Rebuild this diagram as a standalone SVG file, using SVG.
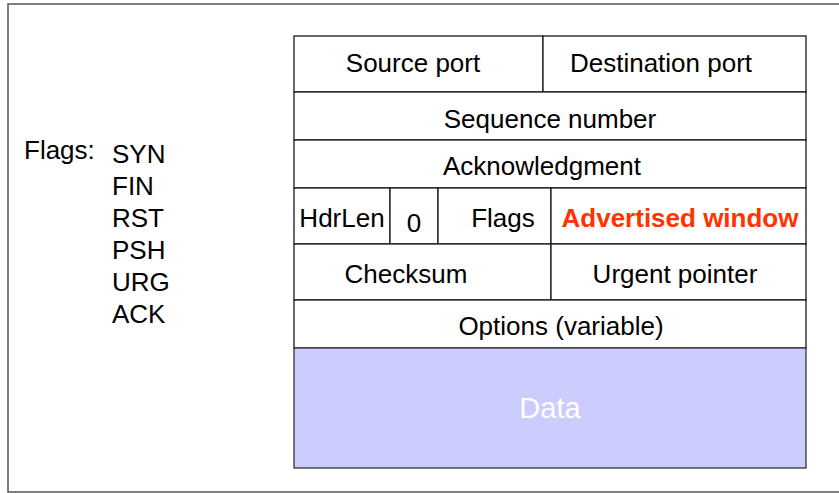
<svg xmlns="http://www.w3.org/2000/svg" width="839" height="493" viewBox="0 0 839 493">
<style>
.cell{fill:#ffffff;stroke:#1a1a1a;stroke-width:1.3}
.data{fill:#ccccff;stroke:#333333;stroke-width:1.3}
.t{font-family:"Liberation Sans",Arial,Helvetica,sans-serif;font-size:26px;fill:#000000}
.c{text-anchor:middle}
.adv{font-weight:bold;fill:#ff3300}
.dt{fill:#ffffff;font-size:29px}
</style>
<rect x="8" y="4" width="840" height="488" fill="#ffffff" stroke="#555555" stroke-width="1.5"/>
<g id="flags-legend">
<text class="t" x="24" y="159">Flags:</text>
<text class="t" x="112" y="163">SYN</text>
<text class="t" x="112" y="195">FIN</text>
<text class="t" x="112" y="227">RST</text>
<text class="t" x="112" y="259">PSH</text>
<text class="t" x="112" y="291">URG</text>
<text class="t" x="112" y="323">ACK</text>
</g>
<g id="source-port"><rect class="cell" x="294" y="36" width="249" height="56"/><text class="t c" x="413" y="72">Source port</text></g>
<g id="destination-port"><rect class="cell" x="543" y="36" width="263" height="56"/><text class="t c" x="661" y="72">Destination port</text></g>
<g id="sequence-number"><rect class="cell" x="294" y="92" width="512" height="48"/><text class="t c" x="550" y="128">Sequence number</text></g>
<g id="acknowledgment"><rect class="cell" x="294" y="140" width="512" height="48"/><text class="t c" x="542" y="175">Acknowledgment</text></g>
<g id="hdrlen"><rect class="cell" x="294" y="188" width="96" height="56"/><text class="t c" x="342" y="227">HdrLen</text></g>
<g id="zero"><rect class="cell" x="390" y="188" width="48" height="56"/><text class="t c" x="414" y="232">0</text></g>
<g id="flags"><rect class="cell" x="438" y="188" width="113" height="56"/><text class="t c" x="503" y="227">Flags</text></g>
<g id="advertised-window"><rect class="cell" x="551" y="188" width="255" height="56"/><text class="t c adv" x="680" y="227">Advertised window</text></g>
<g id="checksum"><rect class="cell" x="294" y="244" width="257" height="56"/><text class="t c" x="406" y="283">Checksum</text></g>
<g id="urgent-pointer"><rect class="cell" x="551" y="244" width="255" height="56"/><text class="t c" x="675" y="283">Urgent pointer</text></g>
<g id="options"><rect class="cell" x="294" y="300" width="512" height="48"/><text class="t c" x="561" y="335">Options (variable)</text></g>
<g id="data"><rect class="data" x="294" y="348" width="512" height="120"/><text class="t c dt" x="550" y="418">Data</text></g>
<g id="connectors"></g>
</svg>
